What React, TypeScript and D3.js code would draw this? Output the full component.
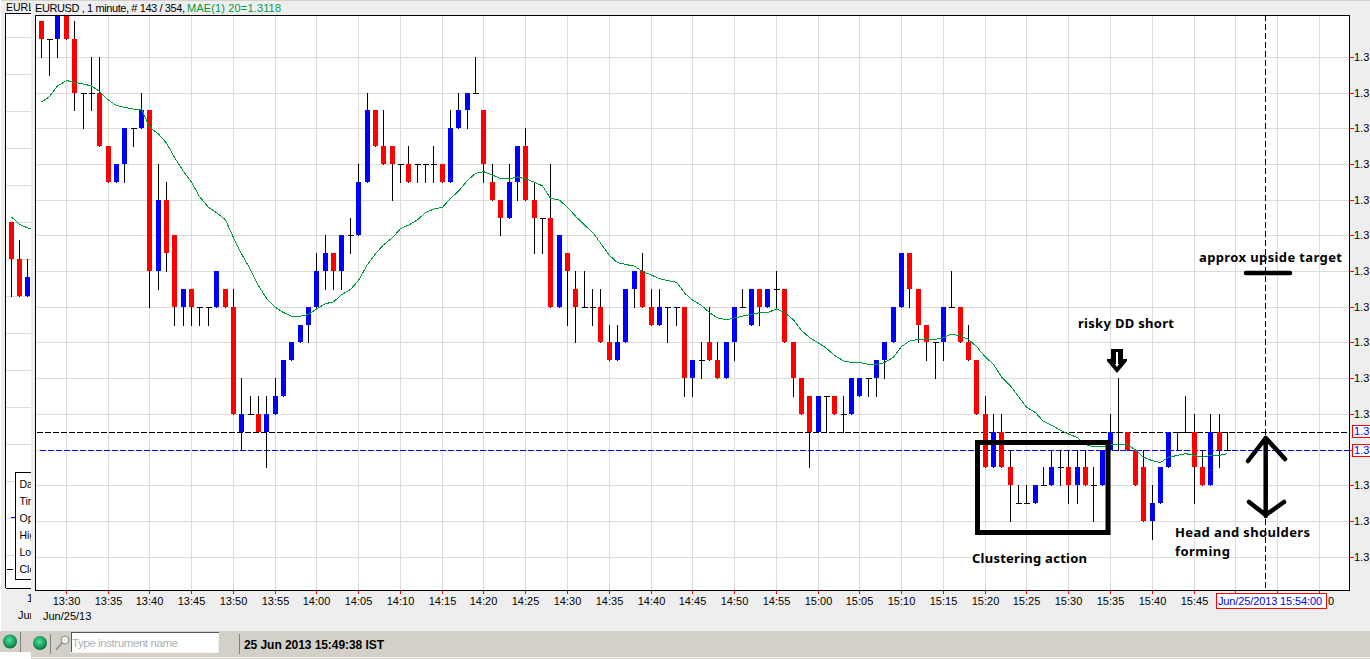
import React from "react";
import * as d3 from "d3";

// ---------- data (1 minute EURUSD candles, 13:27 .. 15:49) ----------
const firstMinute = 13 * 60 + 27;
const opens = [
  1.3142,1.3141,1.3141,1.3143,1.3141,1.3138,1.3138,1.3138,
  1.3135,1.3133,1.3134,1.3136,1.3136,
  1.3137,1.3128,1.3132,1.3130,1.3126,
  1.3127,1.3126,1.3126,1.3126,1.3127,
  1.3126,1.3119,1.3120,1.3120,1.3119,
  1.3120,1.3121,1.3123,1.3124,1.3125,
  1.3126,1.3128,1.3129,1.3128,1.3130,
  1.3130,1.3133,1.3137,1.3135,1.3135,
  1.3134,1.3134,1.3134,1.3134,1.3134,
  1.3134,1.3133,1.3136,1.3137,1.3138,
  1.3137,1.3133,1.3132,1.3131,1.3133,
  1.3135,1.3132,1.3131,1.3131,1.3126,
  1.3129,1.3127,1.3126,1.3126,1.3126,
  1.3124,1.3123,1.3124,1.3127,1.3128,
  1.3126,1.3125,1.3126,1.3126,1.3126,
  1.3122,1.3123,1.3124,1.3123,1.3122,
  1.3124,1.3126,1.3125,1.3127,1.3126,
  1.3127,1.3127,1.3124,1.3122,1.3121,
  1.3119,1.3121,1.3121,1.3120,1.3120,
  1.3121,1.3122,1.3122,1.3123,1.3124,
  1.3126,1.3129,1.3127,1.3125,1.3124,
  1.3124,1.3126,1.3126,1.3124,1.3123,
  1.3120,1.3117,1.3119,1.3117,1.3115,
  1.3115,1.3115,1.3116,1.3116,1.3117,
  1.3117,1.3116,1.3117,1.3116,1.3116,
  1.3118,1.3119,1.3119,1.3118,1.3117,
  1.3114,1.3115,1.3117,1.3119,1.3119,
  1.3119,1.3117,1.3116,1.3119,1.3118,
];
const highs = [
  1.3142,1.3141,1.3143,1.3143,1.3142,1.3138,1.3140,1.3140,
  1.3135,1.3134,1.3136,1.3136,1.3138,
  1.3137,1.3134,1.3133,1.3130,1.3127,
  1.3127,1.3126,1.3126,1.3128,1.3127,
  1.3127,1.3122,1.3121,1.3121,1.3121,
  1.3122,1.3123,1.3124,1.3125,1.3126,
  1.3129,1.3130,1.3129,1.3130,1.3131,
  1.3134,1.3138,1.3137,1.3137,1.3135,
  1.3134,1.3135,1.3134,1.3134,1.3135,
  1.3134,1.3137,1.3138,1.3138,1.3140,
  1.3137,1.3134,1.3132,1.3134,1.3135,
  1.3136,1.3133,1.3131,1.3134,1.3130,
  1.3129,1.3128,1.3128,1.3127,1.3127,
  1.3125,1.3125,1.3127,1.3128,1.3129,
  1.3127,1.3127,1.3126,1.3126,1.3126,
  1.3123,1.3124,1.3126,1.3124,1.3124,
  1.3126,1.3127,1.3127,1.3127,1.3127,
  1.3128,1.3127,1.3124,1.3122,1.3121,
  1.3121,1.3121,1.3121,1.3121,1.3122,
  1.3122,1.3122,1.3123,1.3124,1.3126,
  1.3129,1.3129,1.3127,1.3125,1.3124,
  1.3126,1.3128,1.3126,1.3125,1.3123,
  1.3121,1.3120,1.3120,1.3118,1.3116,
  1.3116,1.3116,1.3117,1.3118,1.3118,
  1.3118,1.3118,1.3118,1.3117,1.3118,
  1.3120,1.3122,1.3119,1.3118,1.3118,
  1.3116,1.3117,1.3119,1.3119,1.3121,
  1.3120,1.3118,1.3120,1.3120,1.3119,
];
const lows = [
  1.3140,1.3139,1.3140,1.3141,1.3137,1.3136,1.3137,1.3135,
  1.3133,1.3133,1.3133,1.3135,1.3136,
  1.3126,1.3127,1.3128,1.3125,1.3125,
  1.3125,1.3125,1.3125,1.3126,1.3126,
  1.3120,1.3118,1.3120,1.3119,1.3117,
  1.3120,1.3121,1.3123,1.3124,1.3124,
  1.3126,1.3127,1.3127,1.3127,1.3129,
  1.3130,1.3133,1.3135,1.3134,1.3132,
  1.3133,1.3133,1.3133,1.3133,1.3133,
  1.3133,1.3133,1.3136,1.3136,1.3138,
  1.3133,1.3132,1.3130,1.3131,1.3132,
  1.3132,1.3129,1.3129,1.3126,1.3126,
  1.3125,1.3124,1.3126,1.3125,1.3124,
  1.3123,1.3123,1.3124,1.3126,1.3126,
  1.3125,1.3125,1.3124,1.3125,1.3121,
  1.3121,1.3122,1.3123,1.3122,1.3122,
  1.3123,1.3126,1.3125,1.3125,1.3126,
  1.3126,1.3124,1.3121,1.3120,1.3117,
  1.3119,1.3119,1.3120,1.3119,1.3120,
  1.3121,1.3121,1.3121,1.3122,1.3124,
  1.3126,1.3126,1.3124,1.3123,1.3122,
  1.3123,1.3126,1.3124,1.3123,1.3120,
  1.3117,1.3117,1.3117,1.3114,1.3115,
  1.3115,1.3115,1.3116,1.3116,1.3116,
  1.3115,1.3115,1.3116,1.3114,1.3116,
  1.3118,1.3118,1.3118,1.3116,1.3114,
  1.3113,1.3115,1.3117,1.3118,1.3119,
  1.3115,1.3116,1.3116,1.3117,1.3118,
];
const closes = [
  1.3141,1.3141,1.3143,1.3141,1.3138,1.3138,1.3138,1.3135,
  1.3133,1.3134,1.3136,1.3136,1.3137,
  1.3128,1.3132,1.3129,1.3126,1.3127,
  1.3126,1.3126,1.3126,1.3128,1.3126,
  1.3120,1.3120,1.3120,1.3119,1.3120,
  1.3121,1.3123,1.3124,1.3125,1.3126,
  1.3128,1.3129,1.3128,1.3130,1.3130,
  1.3133,1.3137,1.3135,1.3134,1.3134,
  1.3134,1.3133,1.3134,1.3134,1.3134,
  1.3133,1.3136,1.3137,1.3138,1.3138,
  1.3134,1.3132,1.3131,1.3133,1.3135,
  1.3132,1.3131,1.3131,1.3126,1.3130,
  1.3128,1.3126,1.3126,1.3126,1.3124,
  1.3123,1.3124,1.3127,1.3128,1.3126,
  1.3125,1.3126,1.3126,1.3126,1.3122,
  1.3123,1.3123,1.3123,1.3122,1.3124,
  1.3126,1.3126,1.3127,1.3126,1.3127,
  1.3127,1.3124,1.3122,1.3120,1.3119,
  1.3121,1.3121,1.3120,1.3120,1.3122,
  1.3122,1.3122,1.3123,1.3124,1.3126,
  1.3129,1.3127,1.3125,1.3124,1.3124,
  1.3126,1.3126,1.3124,1.3123,1.3120,
  1.3117,1.3119,1.3117,1.3116,1.3115,
  1.3115,1.3116,1.3116,1.3117,1.3117,
  1.3116,1.3117,1.3116,1.3116,1.3118,
  1.3119,1.3119,1.3118,1.3116,1.3114,
  1.3115,1.3117,1.3119,1.3119,1.3119,
  1.3117,1.3116,1.3119,1.3118,1.3118,
];
const maValues = [
  1.31375,1.31378,1.31384,1.31387,1.31386,1.31385,1.31384,1.31381,
  1.31376,1.31373,1.31372,1.31371,1.31371,
  1.31361,1.31357,1.31352,1.31344,1.31336,
  1.31330,1.31322,1.31316,1.31313,1.31309,
  1.31299,1.31290,1.31281,1.31272,1.31265,
  1.31260,1.31257,1.31255,1.31255,1.31256,
  1.31259,1.31262,1.31263,1.31267,1.31270,
  1.31275,1.31284,1.31290,1.31295,1.31299,
  1.31304,1.31306,1.31309,1.31313,1.31315,
  1.31316,1.31321,1.31325,1.31331,1.31335,
  1.31336,1.31334,1.31332,1.31332,1.31333,
  1.31332,1.31330,1.31328,1.31321,1.31320,
  1.31316,1.31311,1.31306,1.31302,1.31296,
  1.31289,1.31285,1.31284,1.31283,1.31280,
  1.31278,1.31276,1.31275,1.31274,1.31268,
  1.31264,1.31261,1.31257,1.31254,1.31253,
  1.31254,1.31255,1.31256,1.31257,1.31257,
  1.31259,1.31257,1.31253,1.31247,1.31243,
  1.31240,1.31237,1.31233,1.31230,1.31229,
  1.31229,1.31228,1.31228,1.31229,1.31232,
  1.31238,1.31241,1.31242,1.31242,1.31242,
  1.31243,1.31245,1.31244,1.31242,1.31238,
  1.31232,1.31228,1.31221,1.31216,1.31210,
  1.31204,1.31201,1.31196,1.31194,1.31191,
  1.31189,1.31187,1.31183,1.31182,1.31182,
  1.31183,1.31183,1.31183,1.31180,1.31176,
  1.31174,1.31173,1.31176,1.31177,1.31178,
  1.31177,1.31176,1.31177,1.31177,1.31178,
];
const priceTicks = [1.3140,1.3138,1.3136,1.3134,1.3132,1.3130,1.3128,1.3126,1.3124,1.3122,1.3120,1.3118,1.3116,1.3114,1.3112];
const timeTicks = ["13:30","13:35","13:40","13:45","13:50","13:55","14:00","14:05","14:10","14:15","14:20","14:25","14:30","14:35","14:40","14:45","14:50","14:55","15:00","15:05","15:10","15:15","15:20","15:25","15:30","15:35","15:40","15:45","15:50","15:55","16:00"];
// the cursor box hides these tick labels in the picture
const hiddenTimeLabels = ["15:50", "15:55", "16:00"];
const blackLevel = 1.3119;
const blueLevel = 1.3118;
const crosshairMinute = 15 * 60 + 53.6;

// left, mostly hidden, companion chart
const miniOpens = [1.3130, 1.3128, 1.3126];
const miniHighs = [1.3130, 1.3129, 1.3128];
const miniLows = [1.3126, 1.3126, 1.3126];
const miniCloses = [1.3128, 1.3126, 1.3127];
const miniMa = [1.31303, 1.31299, 1.31297, 1.31296];
const miniTicks = [1.3140,1.3138,1.3136,1.3134,1.3132,1.3130,1.3128,1.3126,1.3124,1.3122,1.3120,1.3118,1.3116,1.3114,1.3112];
const infoLabels = ["Da", "Tir", "Op", "Hig", "Lo", "Clc"];

const RED = "#ff0000";
const BLUE = "#0000ff";
const GREEN = "#009a3e";
const GRID = "#dcdcdc";
const PANEL = "#eeeeee";
const BAR = "#d4d0c8";
const SANS = "'Liberation Sans', Arial, sans-serif";
const NOTE = "'Noto Sans', sans-serif";

const toMinute = (s: string) => {
  const [h, m] = s.split(":").map(Number);
  return h * 60 + m;
};
const x = d3.scaleLinear().domain([13 * 60 + 30, 16 * 60]).range([66.3, 1319.3]);
const y = d3.scaleLinear().domain([1.312, 1.314]).range([414.35, 57.35]);
const miniX = d3.scaleLinear().domain([0, 2]).range([11.3, 27.3]);
const miniY = d3.scaleLinear().domain([1.312, 1.314]).range([407.3, 37.3]);
const px = (v: number) => Math.floor(v) + 0.5;

type C = { cx: number; o: number; h: number; l: number; c: number };

function Candle({ cx, o, h, l, c }: C) {
  const top = Math.floor(Math.min(o, c));
  const bottom = Math.floor(Math.max(o, c));
  const col = Math.floor(cx);
  const isDoji = top === bottom;
  return (
    <g>
      <line x1={col + 0.5} x2={col + 0.5} y1={Math.floor(h)} y2={Math.floor(l) + 1} stroke="#000" />
      {isDoji ? (
        <rect x={col - 2} y={top} width={6} height={1} fill="#000" />
      ) : (
        <rect x={col - 2} y={top} width={5} height={bottom - top} fill={c < o ? BLUE : RED} />
      )}
    </g>
  );
}

export default function App() {
  const minutes = d3.range(opens.length).map((i) => firstMinute + i);
  const maLine = d3
    .line<number>()
    .x((_, i) => px(x(firstMinute + i)))
    .y((d) => y(d));
  const miniLine = d3
    .line<number>()
    .x((_, i) => miniX(i))
    .y((d) => miniY(d));

  return (
    <svg width={1370} height={659} style={{ position: "fixed", left: 0, top: 0, display: "block" }} fontFamily={SANS}>
      <defs>
        <clipPath id="plot"><rect x={35} y={15} width={1314} height={575} /></clipPath>
        <clipPath id="mini"><rect x={5} y={13} width={26} height={575} /></clipPath>
        <clipPath id="miniText"><rect x={0} y={0} width={31} height={630} /></clipPath>
      </defs>
      <rect width={1370} height={659} fill={PANEL} />
      <rect width={1370} height={1} fill={BAR} />
      <rect x={0} y={0} width={1} height={631} fill="#fff" />

      {/* hidden companion chart at the left */}
      <g shapeRendering="crispEdges">
        <rect x={5} y={13} width={26} height={575} fill="#fff" />
        <g clipPath="url(#mini)">
          {miniTicks.map((t) => (
            <line key={t} x1={6} x2={31} y1={px(miniY(t))} y2={px(miniY(t))} stroke={GRID} />
          ))}
          {miniOpens.map((o, i) => (
            <Candle key={i} cx={miniX(i)} o={miniY(o)} h={miniY(miniHighs[i])} l={miniY(miniLows[i])} c={miniY(miniCloses[i])} />
          ))}
        </g>
        <path d={`M5.5 588V13.5H31M5.5 588.5H31`} fill="none" stroke="#000" />
      </g>
      <path d={miniLine(miniMa) || ""} fill="none" stroke={GREEN} clipPath="url(#mini)" shapeRendering="crispEdges" />
      <g clipPath="url(#miniText)" fontSize={11} fill="#000">
        <text x={6} y={11} fontSize={10.5}>EURL</text>
        <rect x={15.5} y={472.5} width={30} height={107} fill="#fff" stroke="#000" shapeRendering="crispEdges" />
        {infoLabels.map((l, i) => (
          <text key={l} x={19.5} y={488 + i * 17} fontSize={10.5}>{l}</text>
        ))}
        <line x1={11} x2={15} y1={517.5} y2={517.5} stroke={BLUE} shapeRendering="crispEdges" />
        <line x1={7} x2={13} y1={569.5} y2={569.5} stroke="#000" shapeRendering="crispEdges" />
        <text x={27} y={602}>1</text>
        <text x={18} y={619}>Jun</text>
      </g>

      {/* header */}
      <text x={35} y={12} fontSize={11} textLength={150} lengthAdjust="spacing">EURUSD , 1 minute, # 143 / 354,</text>
      <text x={187} y={12} fontSize={11} fill={GREEN} textLength={94} lengthAdjust="spacing">MAE(1) 20=1.3118</text>

      {/* main plot */}
      <rect x={35} y={15} width={1314} height={575} fill="#fff" />
      <g shapeRendering="crispEdges">
        {timeTicks.map((t) => (
          <line key={t} x1={px(x(toMinute(t)))} x2={px(x(toMinute(t)))} y1={15} y2={590} stroke={GRID} />
        ))}
        {priceTicks.map((t) => (
          <line key={t} x1={36} x2={1349} y1={px(y(t))} y2={px(y(t))} stroke={GRID} />
        ))}
      </g>
      <g clipPath="url(#plot)" shapeRendering="crispEdges">
        <line x1={37} x2={1349} y1={px(y(blackLevel))} y2={px(y(blackLevel))} stroke="#000" strokeDasharray="5.5 2.5" />
        <line x1={40} x2={1349} y1={px(y(blueLevel))} y2={px(y(blueLevel))} stroke={BLUE} strokeDasharray="5.5 2.5" />
        {minutes.map((m, i) => (
          <Candle key={m} cx={x(m)} o={y(opens[i])} h={y(highs[i])} l={y(lows[i])} c={y(closes[i])} />
        ))}
      </g>
      <path d={maLine(maValues) || ""} fill="none" stroke={GREEN} strokeWidth={1} clipPath="url(#plot)" shapeRendering="crispEdges" />

      <line x1={px(x(crosshairMinute))} x2={px(x(crosshairMinute))} y1={15} y2={590} stroke="#000" strokeDasharray="6 3" shapeRendering="crispEdges" />

      {/* frame */}
      <rect x={35.5} y={15.5} width={1314} height={575} fill="none" stroke="#000" shapeRendering="crispEdges" />

      {/* y axis */}
      <g fontSize={11} shapeRendering="crispEdges">
        {priceTicks.map((t) => (
          <g key={t}>
            <line x1={1350} x2={1354} y1={px(y(t))} y2={px(y(t))} stroke={RED} />
            <text x={1354} y={Math.floor(y(t)) + 4} fill="#000">{d3.format(".1f")(t)}</text>
          </g>
        ))}
        <rect x={1352.5} y={425.5} width={18} height={12} fill="#fff" stroke={RED} />
        <text x={1354} y={435} fill={BLUE}>1.3</text>
        <rect x={1352.5} y={444.5} width={18} height={12} fill="#fff" stroke={RED} />
        <text x={1354} y={454} fill={BLUE}>1.3</text>
      </g>

      {/* x axis */}
      <g fontSize={11}>
        {timeTicks.map((t) => (
          <g key={t}>
            <line x1={px(x(toMinute(t)))} x2={px(x(toMinute(t)))} y1={591} y2={594} stroke={RED} shapeRendering="crispEdges" />
            {hiddenTimeLabels.includes(t) ? null : (
              <text x={px(x(toMinute(t)))} y={605} textAnchor="middle" fill="#000">{t}</text>
            )}
          </g>
        ))}
        <text x={43} y={620} fill="#000">Jun/25/13</text>
        <rect x={1216.5} y={593.5} width={110} height={15} fill="#fff" stroke={RED} shapeRendering="crispEdges" />
        <text x={1218} y={605} fill={BLUE} textLength={104}>Jun/25/2013 15:54:00</text>
        <text x={1328} y={605} fill="#000">0</text>
      </g>

      {/* hand drawn annotations */}
      <rect x={977.5} y={442.5} width={130.5} height={90} fill="none" stroke="#000" strokeWidth={5} />
      <line x1={1246} x2={1290} y1={273} y2={273} stroke="#000" strokeWidth={4.5} strokeLinecap="round" />
      <path d="M1265.7 438V516M1248 461L1265.7 438L1285 459M1249 502L1265.7 515L1284 502" fill="none" stroke="#000" strokeWidth={4.5} strokeLinecap="round" strokeLinejoin="round" />
      <path d="M1111 349H1123V359H1127V361L1117 373L1107 361V359H1111Z" fill="#000" />
      <path d="M1116 352H1118V364H1119L1117 367L1115 364H1116Z" fill="#fff" />
      <g fontFamily={NOTE} fontWeight={700} fontSize={13} fill="#000">
        <text x={972} y={563} textLength={115}>Clustering action</text>
        <text x={1078} y={328} textLength={96}>risky DD short</text>
        <text x={1199} y={262} textLength={143}>approx upside target</text>
        <text x={1175} y={537} textLength={135}>Head and shoulders</text>
        <text x={1175} y={556} textLength={55}>forming</text>
      </g>

      {/* status bar */}
      <rect x={0} y={631} width={31} height={21} fill={BAR} />
      <rect x={0} y={652} width={31} height={7} fill="#fff" />
      <rect x={31} y={631} width={1339} height={26} fill={BAR} />
      <rect x={31} y={657} width={1339} height={1} fill="#f4f3f0" />
      <rect x={31} y={658} width={1339} height={1} fill={BAR} />
      <defs>
        <radialGradient id="led" cx="45%" cy="40%" r="60%">
          <stop offset="0%" stopColor="#4fe09a" />
          <stop offset="70%" stopColor="#169a5a" />
          <stop offset="100%" stopColor="#0b6a3c" />
        </radialGradient>
      </defs>
      <circle cx={10} cy={641.5} r={7} fill="url(#led)" />
      <circle cx={40} cy={643} r={7} fill="url(#led)" />
      <g shapeRendering="crispEdges">
        <line x1={20.5} x2={20.5} y1={632} y2={652} stroke="#808080" />
        <line x1={50.5} x2={50.5} y1={634} y2={654} stroke="#808080" />
        <line x1={239.5} x2={239.5} y1={634} y2={654} stroke="#808080" />
        <rect x={71} y={632} width={148} height={21} fill="#fff" stroke="none" />
        <path d="M71.5 652V632.5H218.5" fill="none" stroke="#555" />
        <path d="M218.5 633V652.5H72" fill="none" stroke="#f4f3f0" />
      </g>
      <circle cx={65} cy={640} r={4} fill="#eee" stroke="#888" />
      <line x1={62} x2={56} y1={643} y2={650} stroke="#888" strokeWidth={1.5} />
      <text x={72} y={647} fontSize={11.5} fill="#b0b0b0" textLength={106}>Type instrument name</text>
      <text x={244} y={649} fontSize={12} fontWeight={700} fill="#000" textLength={140}>25 Jun 2013 15:49:38 IST</text>
    </svg>
  );
}
